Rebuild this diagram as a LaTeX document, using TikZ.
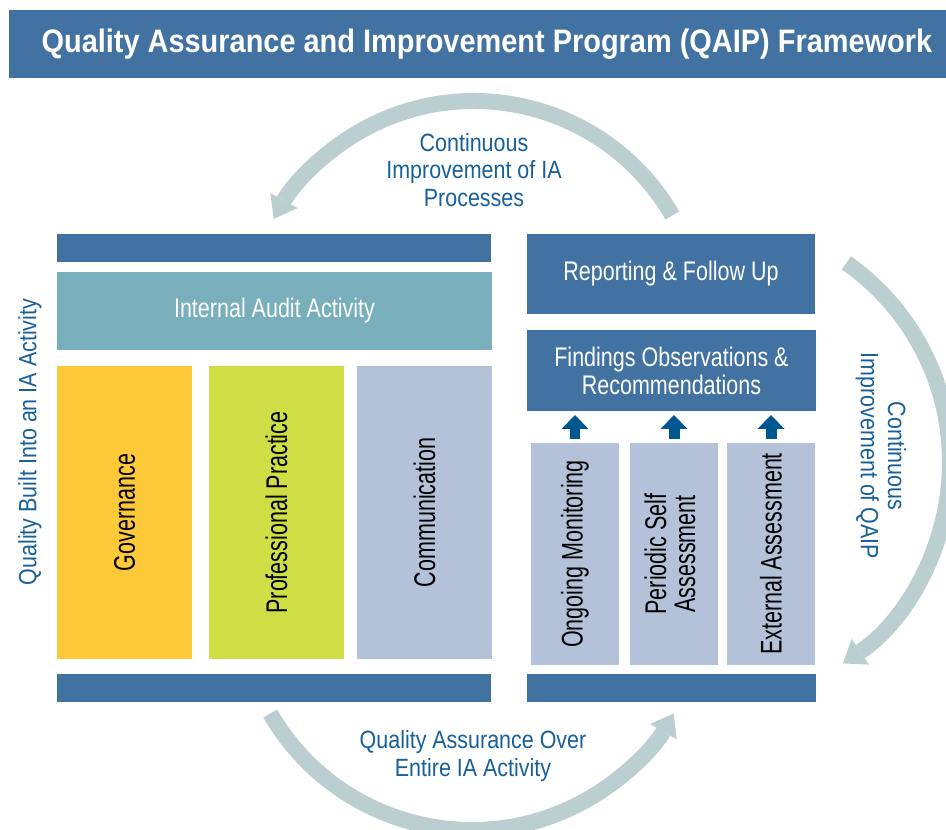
\documentclass[tikz,border=0pt]{standalone}
\usepackage{fontspec}
\usepackage{xcolor}
\usepackage{graphicx}
\usetikzlibrary{arrows.meta}
\setmainfont{Liberation Sans}
\newfontfamily\titlefont[FakeStretch=0.89]{Liberation Sans}
\newfontfamily\labelfont[FakeStretch=0.8]{Liberation Sans}
\newfontfamily\notefont[FakeStretch=0.86]{Liberation Sans}
\newfontfamily\pillarfont[FakeStretch=0.72]{Liberation Sans}
\definecolor{barblue}{HTML}{4272A2}
\definecolor{iateal}{HTML}{78AFBB}
\definecolor{govyellow}{HTML}{FDC938}
\definecolor{profgreen}{HTML}{CFDE45}
\definecolor{lavender}{HTML}{B3C2D9}
\definecolor{arcgrey}{HTML}{BBCFD0}
\definecolor{noteblue}{HTML}{17609A}
\definecolor{arrowblue}{HTML}{00578F}
\newcommand{\upright}[1]{\rotatebox{90}{#1}}

\begin{document}
\begin{tikzpicture}[x=0.02cm, y=0.02cm,
  box/.style={rectangle, inner sep=0pt, outer sep=0pt, anchor=north west},
  bluebox/.style={box, fill=barblue, text=white, align=center,
    font=\labelfont\fontsize{15.3}{15.9}\selectfont},
  pillar/.style={box, text=black, font=\pillarfont\fontsize{17}{15.9}\selectfont},
  note/.style={text=noteblue, align=center, font=\notefont\fontsize{14.2}{15.5}\selectfont},
  looparrow/.style={draw=arcgrey, line width=0.32cm,
    -{Triangle[width=0.62cm, length=0.42cm, line width=0pt]}},
  uparrow/.style={draw=arrowblue, line width=0.22cm,
    -{Triangle[width=0.54cm, length=0.28cm, line width=0pt]},
    shorten <=0.08cm, shorten >=0.08cm}]
\useasboundingbox (0,0) rectangle (946,-829);
\clip (0,0) rectangle (946,-829);

% Title
\node[box, fill=barblue, minimum width=19.12cm, minimum height=1.36cm, text=white,
  font=\titlefont\bfseries\fontsize{18.5}{20}\selectfont] (titlebar) at (9,-10)
  {Quality Assurance and Improvement Program (QAIP) Framework};

% Left block
\node[box, fill=barblue, minimum width=8.68cm, minimum height=0.56cm] (topbarL) at (57,-234) {};
\node[bluebox, fill=iateal, minimum width=8.70cm, minimum height=1.56cm] (iaa) at (57,-272) {Internal Audit Activity};
\node[pillar, fill=govyellow, minimum width=2.70cm, minimum height=5.86cm] (gov) at (57,-366) {\upright{Governance}};
\node[pillar, fill=profgreen, minimum width=2.70cm, minimum height=5.86cm] (prof) at (209,-366) {\upright{Professional Practice}};
\node[pillar, fill=lavender, minimum width=2.70cm, minimum height=5.86cm] (comm) at (357,-366) {\upright{Communication}};
\node[box, fill=barblue, minimum width=8.68cm, minimum height=0.56cm] (botbarL) at (57,-674) {};

% Right block
\node[bluebox, minimum width=5.76cm, minimum height=1.60cm] (report) at (527,-234) {Reporting \& Follow Up};
\node[bluebox, minimum width=5.78cm, minimum height=1.62cm] (findings) at (527,-330) {Findings Observations \&\\Recommendations};
\node[pillar, fill=lavender, minimum width=1.76cm, minimum height=4.44cm] (ongoing) at (531,-443) {\upright{Ongoing Monitoring}};
\node[pillar, fill=lavender, minimum width=1.76cm, minimum height=4.44cm] (periodic) at (630,-443)
  {\upright{\begin{tabular}{@{}c@{}}Periodic Self\\Assessment\end{tabular}}};
\node[pillar, fill=lavender, minimum width=1.76cm, minimum height=4.44cm] (external) at (727,-443) {\upright{External Assessment}};
\node[box, fill=barblue, minimum width=5.78cm, minimum height=0.56cm] (botbarR) at (527,-674) {};

\draw[uparrow] (ongoing.north) -- (ongoing.north |- findings.south);
\draw[uparrow] (periodic.north) -- (periodic.north |- findings.south);
\draw[uparrow] (external.north) -- (external.north |- findings.south);

% Loops
\coordinate (topc) at (474,-330);
\coordinate (rightc) at (707,-462);
\coordinate (botc) at (472,-597);
\draw[looparrow] ([shift={(30:229)}]topc) arc[start angle=30, end angle=151, radius=229];
\draw[looparrow] ([shift={(55:243)}]rightc) arc[start angle=55, end angle=-56, radius=243];
\draw[looparrow] ([shift={(210:233)}]botc) arc[start angle=210, end angle=330, radius=233];

\node[note] (topnote) at (474,-170) {Continuous\\Improvement of IA\\Processes};
\node[note, rotate=-90] (rightnote) at (881,-456) {Continuous\\Improvement of QAIP};
\node[note] (botnote) at (473,-756) {Quality Assurance Over\\Entire IA Activity};
\node[note, rotate=90] (leftnote) at (30,-442) {Quality Built Into an IA Activity};
\end{tikzpicture}
\end{document}
